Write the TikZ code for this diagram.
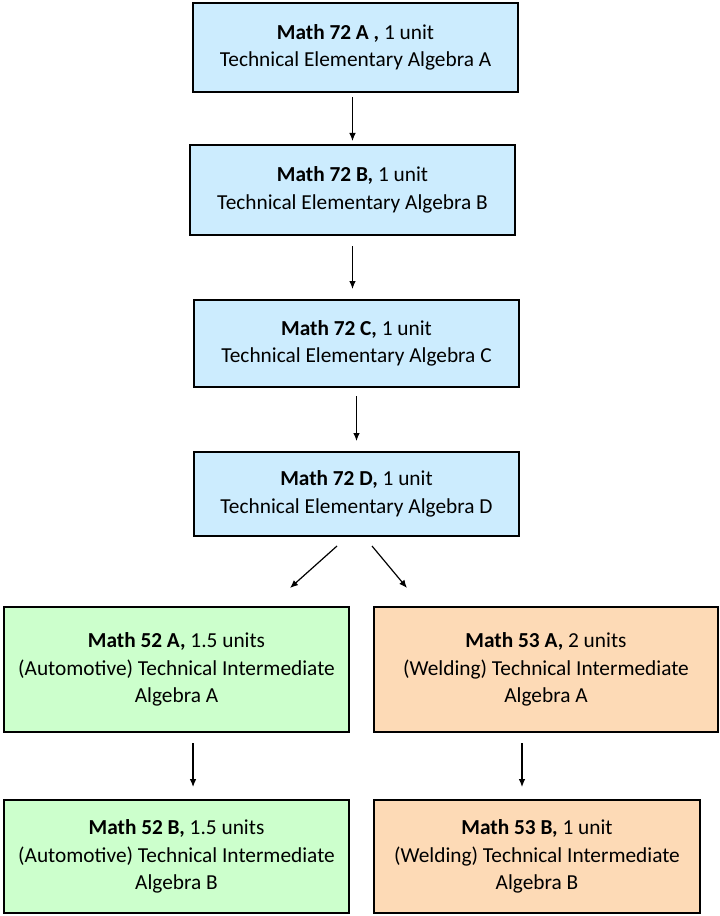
\documentclass[tikz,border=0pt]{standalone}
\usepackage{fontspec}
\setmainfont{Carlito}
\usetikzlibrary{arrows.meta}
\definecolor{elemblue}{RGB}{204,236,254}
\definecolor{autogreen}{RGB}{204,255,204}
\definecolor{weldorange}{RGB}{253,218,182}
\tikzset{
  course/.style={draw=black, line width=1.5pt, align=center, inner sep=2pt, font=\fontsize{16}{20.5}\selectfont},
  prereq/.style={-{Latex[length=6pt,width=5pt]}, line width=0.9pt}
}

\begin{document}
\begin{tikzpicture}[x=0.75pt,y=0.75pt,yscale=-1,xscale=1]
            \useasboundingbox (0,0) rectangle (719,916); %page is 719 x 916

            % Elementary algebra chain
            \node [course, fill=elemblue, minimum width=243.75pt, minimum height=66.75pt] (m72a) at (355.5,47.5) {\textbf{Math 72 A ,} 1 unit\\Technical Elementary Algebra A};
            \node [course, fill=elemblue, minimum width=243.75pt, minimum height=67.5pt] (m72b) at (352.5,190) {\textbf{Math 72 B,} 1 unit\\Technical Elementary Algebra B};
            \node [course, fill=elemblue, minimum width=243.75pt, minimum height=65.25pt] (m72c) at (356.5,343.5) {\textbf{Math 72 C,} 1 unit\\Technical Elementary Algebra C};
            \node [course, fill=elemblue, minimum width=243.75pt, minimum height=63pt] (m72d) at (356.5,494) {\textbf{Math 72 D,} 1 unit\\Technical Elementary Algebra D};

            % Automotive branch
            \node [course, fill=autogreen, minimum width=258.75pt, minimum height=93.75pt] (m52a) at (176.5,669.5) {\textbf{Math 52 A,} 1.5 units\\(Automotive) Technical Intermediate\\Algebra A};
            \node [course, fill=autogreen, minimum width=258.75pt, minimum height=84.75pt] (m52b) at (176.5,856.5) {\textbf{Math 52 B,} 1.5 units\\(Automotive) Technical Intermediate\\Algebra B};

            % Welding branch
            \node [course, fill=weldorange, minimum width=258pt, minimum height=93.75pt] (m53a) at (546,669.5) {\textbf{Math 53 A,} 2 units\\(Welding) Technical Intermediate\\Algebra A};
            \node [course, fill=weldorange, minimum width=244.5pt, minimum height=84.75pt] (m53b) at (537,856.5) {\textbf{Math 53 B,} 1 unit\\(Welding) Technical Intermediate\\Algebra B};

            % split points under Math 72 D
            \coordinate (splitl) at (337,546);
            \coordinate (splitr) at (372,546);
            \coordinate (intol) at (290,588);
            \coordinate (intor) at (407,588);

            % Arrows
            \draw [prereq, shorten <=3pt, shorten >=2.25pt] (m72b.north |- m72a.south) -- (m72b.north);
            \draw [prereq, shorten <=7.5pt, shorten >=7.5pt] (m72b.south) -- (m72b.south |- m72c.north);
            \draw [prereq, shorten <=6pt, shorten >=7.5pt] (m72c.south) -- (m72d.north);
            \draw [prereq] (splitl) -- (intol);
            \draw [prereq] (splitr) -- (intor);
            \draw [prereq, shorten <=7.5pt, shorten >=9pt] ([xshift=12.4pt]m52a.south) -- ([xshift=12.4pt]m52a.south |- m52b.north);
            \draw [prereq, shorten <=7.5pt, shorten >=9pt] ([xshift=-18pt]m53a.south) -- ([xshift=-18pt]m53a.south |- m53b.north);

\end{tikzpicture}
\end{document}
